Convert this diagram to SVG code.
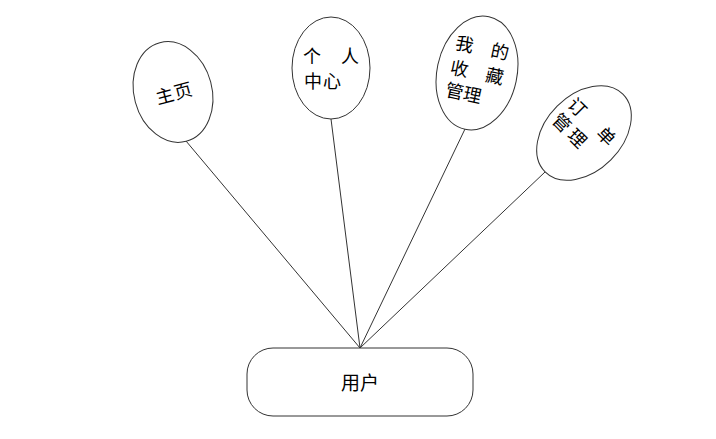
<svg xmlns="http://www.w3.org/2000/svg" width="716" height="439" viewBox="0 0 716 439">
<style>
.shape{fill:#fff;stroke:#333;stroke-width:1}
.conn line{stroke:#333;stroke-width:1}
text{font-family:"Noto Sans CJK SC","Noto Sans",sans-serif;fill:#000;font-size:18px;text-anchor:middle}
</style>
<rect width="716" height="439" fill="#fff"/>
<g class="conn" id="connectors">
<line x1="186" y1="141" x2="360" y2="348"/>
<line x1="331" y1="119" x2="360" y2="348"/>
<line x1="465" y1="129" x2="360" y2="348"/>
<line x1="545" y1="172" x2="360" y2="348"/>
</g>
<g id="node-home" transform="rotate(-15 173 92)">
<ellipse class="shape" cx="173" cy="92" rx="39" ry="51"/>
<text x="164 183" y="100">主页</text>
</g>
<g id="node-center">
<ellipse class="shape" cx="331" cy="68" rx="39" ry="51"/>
<text x="312 350" y="63">个人</text>
<text x="313 332" y="88">中心</text>
</g>
<g id="node-favorites" transform="rotate(12 477 73)">
<ellipse class="shape" cx="477" cy="73" rx="40" ry="57.5"/>
<text x="459 495" y="54">我的</text>
<text x="459 495" y="79">收藏</text>
<text x="459 477" y="102">管理</text>
</g>
<g id="node-orders" transform="rotate(45 584 133)">
<ellipse class="shape" cx="584" cy="133" rx="38" ry="55"/>
<text x="561 602" y="126">订单</text>
<text x="561 583" y="148">管理</text>
</g>
<g id="node-user">
<rect class="shape" x="247" y="348" width="226" height="68" rx="26" ry="26"/>
<text x="360" y="390" style="font-size:19px">用户</text>
</g>
</svg>
